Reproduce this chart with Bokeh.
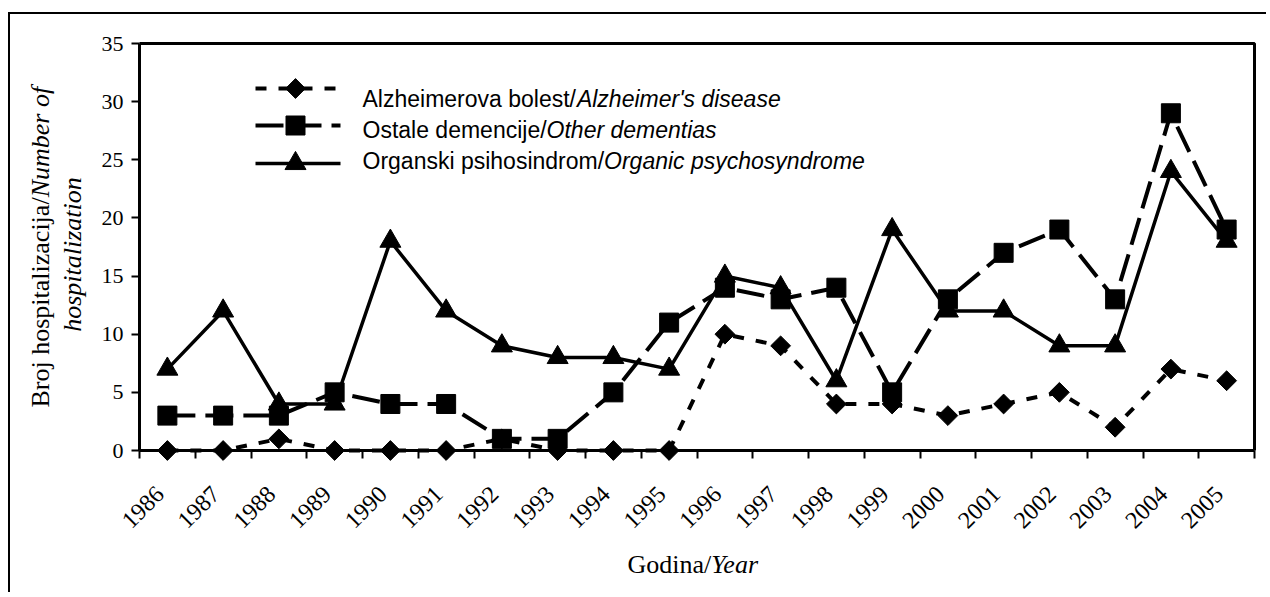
import math
from bokeh.plotting import figure
from bokeh.models import Range1d, FixedTicker, Label
from bokeh.embed import file_html
from bokeh.resources import INLINE

# ---------------- data ----------------
years = [str(y) for y in range(1986, 2006)]
alzheimer = [0, 0, 1, 0, 0, 0, 1, 0, 0, 0, 10, 9, 4, 4, 3, 4, 5, 2, 7, 6]
other_dementias = [3, 3, 3, 5, 4, 4, 1, 1, 5, 11, 14, 13, 14, 5, 13, 17, 19, 13, 29, 19]
organic = [7, 12, 4, 4, 18, 12, 9, 8, 8, 7, 15, 14, 6, 19, 12, 12, 9, 9, 24, 18]
y_ticks = [0, 5, 10, 15, 20, 25, 30, 35]

legend_normal = ["Alzheimerova bolest/", "Ostale demencije/", "Organski psihosindrom/"]
legend_italic = ["Alzheimer's disease", "Other dementias", "Organic psychosyndrome"]

# ---------------- geometry (page pixels) ----------------
F_L, F_R, F_T, F_B = 139, 1254, 43, 450   # plot area on the page
OFF_X, OFF_Y = 10, 14                      # canvas origin on the page (margin + border)
W, H = 1258, 580
N = len(years)
Y_MAX = 35


def dx(px):
    return (px - F_L) / (F_R - F_L) * N


def dy(py):
    return (F_B - py) / (F_B - F_T) * Y_MAX


# the frame covers the whole canvas; the axes sit at fixed data locations
p = figure(width=W, height=H,
           x_range=Range1d(dx(OFF_X), dx(OFF_X + W)),
           y_range=Range1d(dy(OFF_Y + H), dy(OFF_Y)),
           output_backend="svg", toolbar_location=None, tools="",
           min_border_left=0, min_border_right=0, min_border_top=0, min_border_bottom=0)
p.styles = {"margin-left": "8px", "margin-top": "12px",
            "border-left": "2px solid black", "border-top": "2px solid black"}
p.xgrid.visible = False
p.ygrid.visible = False
p.outline_line_color = None
p.background_fill_color = "white"
p.border_fill_color = "white"

# plot-area border (top and right)
p.line([0, N, N], [Y_MAX, Y_MAX, 0], line_color="black", line_width=3)

# x axis: ticks at category boundaries, labels near category centres
xt = [i + 0.5 - 0.13 for i in range(N)]
p.xaxis.fixed_location = 0
p.xaxis.bounds = (0, N)
p.xaxis.ticker = FixedTicker(ticks=xt, minor_ticks=list(range(N + 1)))
p.xaxis.major_label_overrides = {t: y for t, y in zip(xt, years)}
p.xaxis.major_tick_line_color = None
p.xaxis.major_tick_out = 0
p.xaxis.major_tick_in = 0
p.xaxis.minor_tick_line_color = "black"
p.xaxis.minor_tick_line_width = 2
p.xaxis.minor_tick_out = 8
p.xaxis.minor_tick_in = 0
p.xaxis.major_label_orientation = math.pi / 4
p.xaxis.major_label_text_font = "Liberation Serif"
p.xaxis.major_label_text_font_size = "24px"
p.xaxis.major_label_text_color = "black"
p.xaxis.major_label_standoff = 32
p.xaxis.axis_line_width = 3
p.xaxis.axis_line_color = "black"

p.yaxis.fixed_location = 0
p.yaxis.bounds = (0, Y_MAX)
p.yaxis.ticker = FixedTicker(ticks=y_ticks, minor_ticks=[])
p.yaxis.major_tick_out = 8
p.yaxis.major_tick_in = 0
p.yaxis.major_tick_line_width = 2
p.yaxis.major_tick_line_color = "black"
p.yaxis.minor_tick_line_color = None
p.yaxis.major_label_text_font = "Liberation Serif"
p.yaxis.major_label_text_font_size = "22px"
p.yaxis.major_label_text_color = "black"
p.yaxis.major_label_standoff = 8
p.yaxis.axis_line_width = 3
p.yaxis.axis_line_color = "black"

xs = [i + 0.5 for i in range(N)]

# Alzheimer
p.line(xs, alzheimer, line_color="black", line_width=4, line_dash="11 12")
p.scatter(xs, alzheimer, marker="square", angle=math.pi / 4, size=14,
          fill_color="black", line_color="black")
# Other dementias
p.line(xs, other_dementias, line_color="black", line_width=4, line_dash="28 10")
p.scatter(xs, other_dementias, marker="square", size=19, fill_color="black", line_color="black")
# Organic psychosyndrome
p.line(xs, organic, line_color="black", line_width=3.5)
p.scatter(xs, organic, marker="triangle", size=21, fill_color="black", line_color="black")

# ---------------- legend ----------------
lx0, lx1, lmx = 255, 340, 295
rows_glyph = [88, 125, 163]
p.line([dx(lx0), dx(lx1)], [dy(rows_glyph[0])] * 2, line_color="black", line_width=4, line_dash="11 12")
p.scatter([dx(lmx)], [dy(rows_glyph[0])], marker="square", angle=math.pi / 4, size=14,
          fill_color="black", line_color="black")
p.line([dx(lx0), dx(lx1)], [dy(rows_glyph[1])] * 2, line_color="black", line_width=4, line_dash="28 10")
p.scatter([dx(lmx)], [dy(rows_glyph[1])], marker="square", size=19, fill_color="black", line_color="black")
p.line([dx(lx0), dx(lx1)], [dy(rows_glyph[2])] * 2, line_color="black", line_width=3.5)
p.scatter([dx(lmx)], [dy(rows_glyph[2])], marker="triangle", size=21, fill_color="black", line_color="black")

ARIAL_PX = 23
normal_widths = [9321, 8003, 10503]  # Arial advance widths (1/1000 em)
rows_text = [98, 129, 160]
for nt, it, w, by in zip(legend_normal, legend_italic, normal_widths, rows_text):
    p.add_layout(Label(x=dx(362), y=dy(by), text=nt, text_font="Liberation Sans",
                       text_font_size=f"{ARIAL_PX}px", text_align="left",
                       text_baseline="alphabetic", text_color="black"))
    p.add_layout(Label(x=dx(362 + w * ARIAL_PX / 1000), y=dy(by), text=it,
                       text_font="Liberation Sans", text_font_style="italic",
                       text_font_size=f"{ARIAL_PX}px", text_align="left",
                       text_baseline="alphabetic", text_color="black"))

# ---------------- axis titles ----------------
TS = 26


def tlabel(px, py, text, style="normal", angle=0.0, align="left"):
    p.add_layout(Label(x=dx(px), y=dy(py), text=text, angle=angle,
                       text_font="Liberation Serif", text_font_style=style,
                       text_font_size=f"{TS}px", text_align=align,
                       text_baseline="alphabetic", text_color="black"))


gx = 627
tlabel(gx, 564, "Godina/")
tlabel(gx + 3222 * TS / 1000, 564, "Year", style="italic")

y0 = 407
tlabel(40, y0, "Broj hospitalizacija/", angle=math.pi / 2)
tlabel(40, y0 - 8083 * TS / 1000, "Number of", style="italic", angle=math.pi / 2)
tlabel(72, 254, "hospitalization", style="italic", angle=math.pi / 2, align="center")

open("out.html", "w").write(file_html(p, INLINE))
